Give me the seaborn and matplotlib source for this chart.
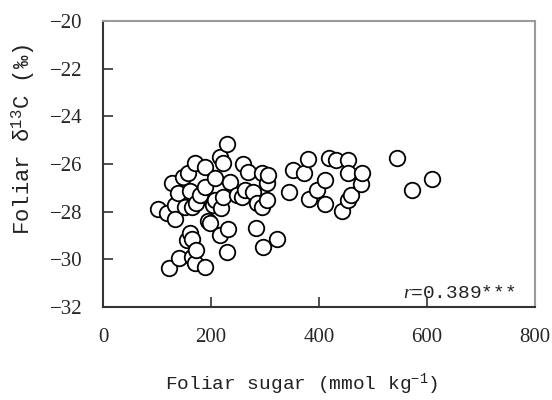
import matplotlib
matplotlib.use("Agg")
import matplotlib.pyplot as plt
import seaborn as sns
import pandas as pd

sugar = [101, 118, 123, 127, 133, 133, 139, 141, 148, 152, 156, 158, 161, 161, 164, 164, 164,
         170, 170, 172, 173, 180, 189, 189, 189, 195, 199, 204, 207, 207, 217, 217, 218, 223,
         223, 229, 229, 232, 235, 248, 257, 260, 269, 263, 278, 283, 285, 294, 294, 297, 303,
         303, 306, 322, 345, 351, 373, 379, 382, 397, 411, 411, 419, 431, 442, 454, 454, 454,
         460, 477, 479, 544, 572, 610]
d13c = [-27.9, -28.07, -30.38, -26.81, -27.74, -28.32, -27.23, -29.96, -26.53, -27.8, -29.19,
        -26.36, -27.13, -28.91, -27.82, -29.16, -29.89, -25.97, -30.17, -27.65, -29.61, -27.3,
        -26.14, -26.97, -30.31, -28.38, -28.49, -27.72, -26.6, -27.51, -25.72, -28.98, -27.86,
        -25.97, -27.4, -25.16, -29.68, -28.74, -26.74, -27.3, -27.4, -26.0, -26.32, -27.09,
        -27.16, -28.7, -27.65, -26.39, -27.82, -29.47, -26.81, -27.51, -26.46, -29.16, -27.16,
        -26.25, -26.39, -25.8, -27.47, -27.09, -26.67, -27.68, -25.73, -25.83, -27.96, -25.83,
        -26.39, -27.5, -27.3, -26.84, -26.39, -25.76, -27.1, -26.62]
x_ticks = [0, 200, 400, 600, 800]
y_ticks = [-32, -30, -28, -26, -24, -22, -20]
annotation = "$\\mathit{r}$=0.389***"

sns.set_theme(style="white")
plt.rcParams["font.family"] = ["Liberation Mono", "DejaVu Sans"]
plt.rcParams["mathtext.fontset"] = "custom"
plt.rcParams["mathtext.rm"] = "Liberation Mono"
plt.rcParams["mathtext.it"] = "Liberation Serif:italic"
plt.rcParams["axes.unicode_minus"] = True

df = pd.DataFrame({"sugar": sugar, "d13c": d13c})

fig = plt.figure(figsize=(5.52, 4.0), dpi=100)
ax = fig.add_axes([103 / 552, 1 - 307 / 400, 432 / 552, 286 / 400])
sns.scatterplot(data=df, x="sugar", y="d13c", ax=ax, s=125, marker="o",
                facecolor="white", edgecolor="black", linewidth=1.3, zorder=3)

ax.set_xlim(0, 800)
ax.set_ylim(-32, -20)
ax.set_xticks(x_ticks)
ax.set_yticks(y_ticks)
ax.set_xticklabels([str(v) for v in x_ticks], family="Liberation Serif", fontsize=15)
ax.set_yticklabels([str(v).replace("-", "\u2212") for v in y_ticks], family="Liberation Serif", fontsize=15)
ax.tick_params(axis="both", direction="in", length=7, width=1.2, color="#333333",
               left=True, bottom=True, right=False, top=False)
ax.tick_params(axis="y", pad=14.5)
ax.tick_params(axis="x", pad=15)

for side in ["left", "bottom"]:
    ax.spines[side].set_color("#333333")
    ax.spines[side].set_linewidth(1.5)
for side in ["top", "right"]:
    ax.spines[side].set_color("#9a9a9a")
    ax.spines[side].set_linewidth(1.5)

ax.set_xlabel("Foliar sugar (mmol kg$^{-1}$)", fontsize=14, color="#222222")
ax.set_ylabel("Foliar \u03b4$^{13}$C (\u2030)", fontsize=16, color="#222222")
ax.xaxis.set_label_coords(0.46, -0.225)
ax.yaxis.set_label_coords(-0.153, 0.585)

ax.text(763, -31.62, annotation, ha="right", va="baseline", fontsize=14, color="#222222")

fig.savefig("out.png", dpi=100)
